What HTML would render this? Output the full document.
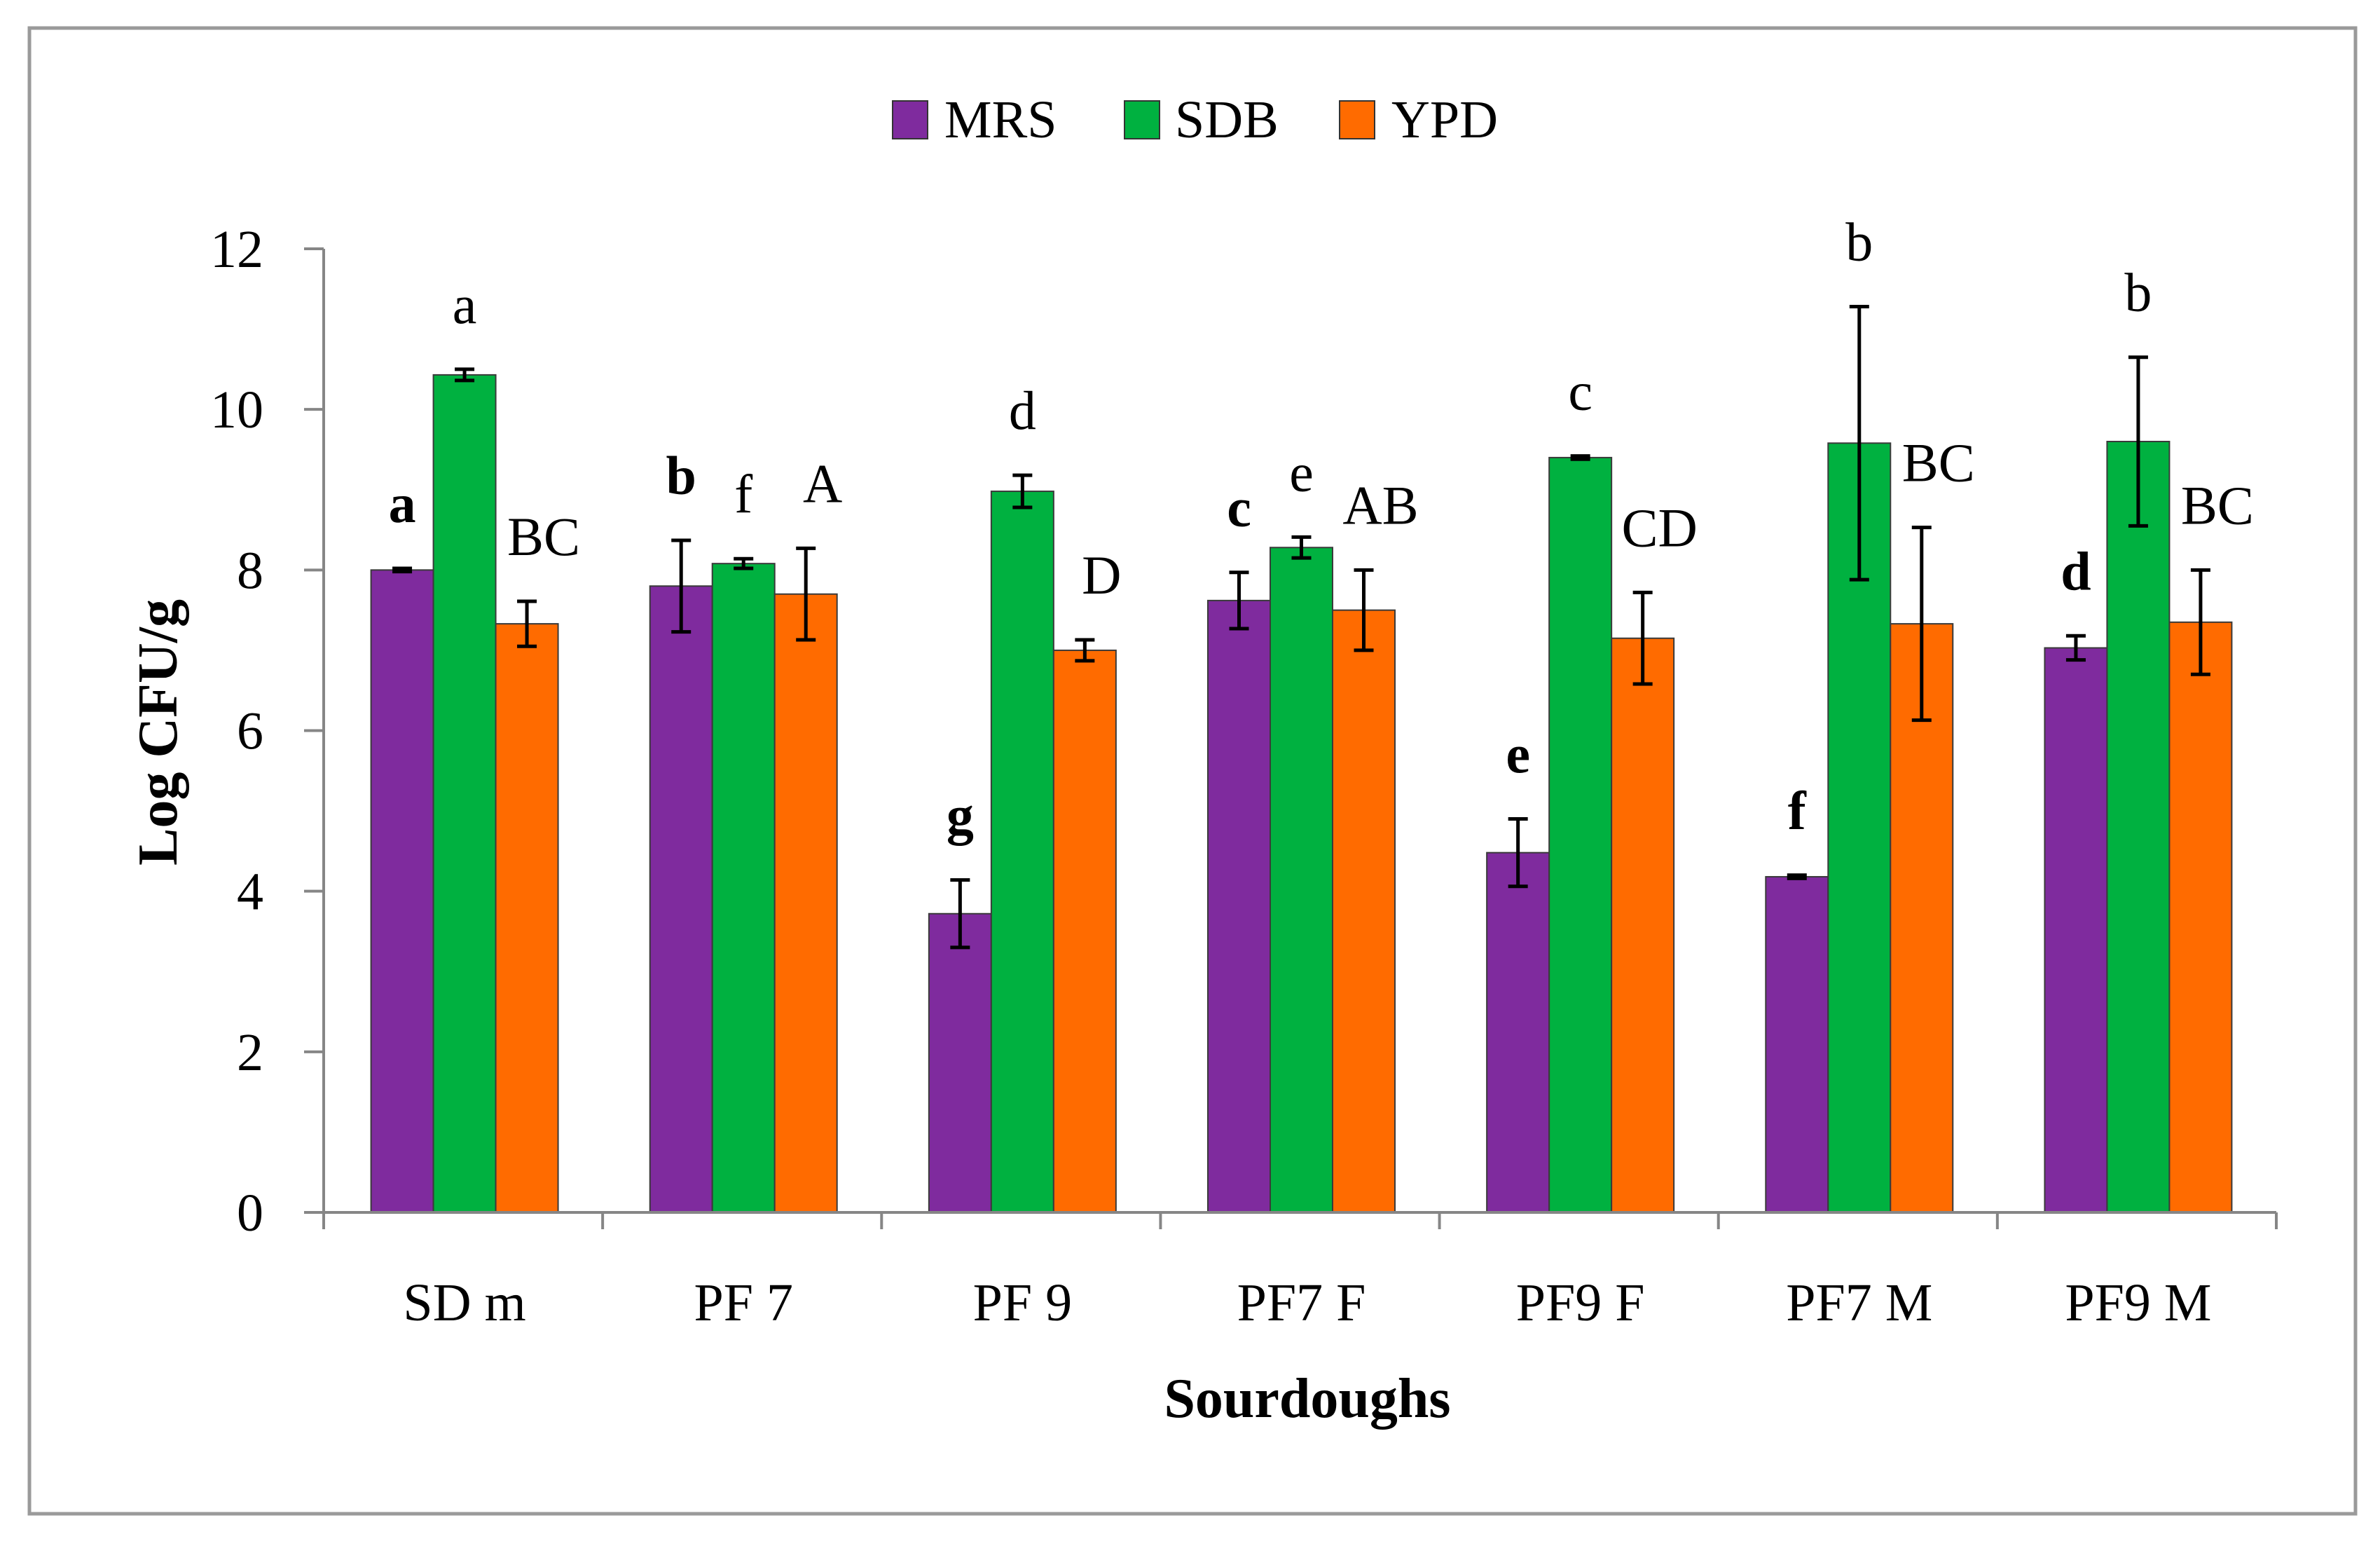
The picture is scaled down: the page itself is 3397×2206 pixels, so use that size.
<!DOCTYPE html>
<html><head><meta charset="utf-8"><style>html,body{margin:0;padding:0;background:#fff}svg{display:block}</style></head>
<body>
<svg id="chart" width="3397" height="2206" viewBox="0 0 3397 2206" xmlns="http://www.w3.org/2000/svg" font-family="'Liberation Serif', serif">
<rect x="42" y="40" width="3320" height="2120" fill="#fff" stroke="#9a9a9a" stroke-width="5"/>
<g font-size="76" fill="#000">
  <rect x="1274" y="144" width="50" height="54" fill="#7f2b9e" stroke="#333" stroke-width="2"/>
  <text x="1348" y="196">MRS</text>
  <rect x="1605" y="144" width="50" height="54" fill="#00b140" stroke="#333" stroke-width="2"/>
  <text x="1677" y="196">SDB</text>
  <rect x="1912" y="144" width="50" height="54" fill="#ff6b00" stroke="#333" stroke-width="2"/>
  <text x="1986" y="196">YPD</text>
</g>
<g id="plot"></g>
<text x="1866" y="2022" font-size="80" font-weight="bold" text-anchor="middle">Sourdoughs</text>
<text transform="translate(252,1045) rotate(-90)" font-size="80" font-weight="bold" text-anchor="middle">Log CFU/g</text>
</svg>
<script>
const categories = ["SD m","PF 7","PF 9","PF7 F","PF9 F","PF7 M","PF9 M"];
const mrsValues = [8.0,7.8,3.72,7.62,4.48,4.18,7.03];
const mrsErrors = [0.02,0.57,0.42,0.35,0.42,0.02,0.15];
const sdbValues = [10.43,8.08,8.98,8.28,9.4,9.58,9.6];
const sdbErrors = [0.07,0.06,0.2,0.13,0.02,1.7,1.05];
const ypdValues = [7.33,7.7,7.0,7.5,7.15,7.33,7.35];
const ypdErrors = [0.28,0.57,0.13,0.5,0.57,1.2,0.65];
const mrsLetters = ["a","b","g","c","e","f","d"];
const sdbLetters = ["a","f","d","e","c","b","b"];
const ypdLetters = ["BC","A","D","AB","CD","BC","BC"];
const yTicks = [0,2,4,6,8,10,12];

const NS = "http://www.w3.org/2000/svg";
const plot = document.getElementById('plot');
const x0 = 462, x1 = 3249, yBase = 1730, yTop = 355, yMax = 12;
const groupW = (x1 - x0) / categories.length;
const barW = 89;
function yScale(v){ return yBase - (v / yMax) * (yBase - yTop); }
function groupCenter(i){ return x0 + groupW * (i + 0.5) + 2; }
function mk(tag, attrs){ const e = document.createElementNS(NS, tag); for (const k in attrs) e.setAttribute(k, attrs[k]); plot.appendChild(e); return e; }

const series = [
  {key:"mrs", vals:mrsValues, errs:mrsErrors, letters:mrsLetters, color:"#7f2b9e", bold:true, dx:0},
  {key:"sdb", vals:sdbValues, errs:sdbErrors, letters:sdbLetters, color:"#00b140", bold:false, dx:0},
  {key:"ypd", vals:ypdValues, errs:ypdErrors, letters:ypdLetters, color:"#ff6b00", bold:false, dx:24}
];

categories.forEach((c, i) => {
  series.forEach((s, j) => {
    const cx = groupCenter(i) + (j - 1) * barW;
    const v = s.vals[i], er = s.errs[i];
    const r = mk('rect', {x: cx - barW/2, y: yScale(v), width: barW, height: yBase - yScale(v), fill: s.color, stroke: "#3a3a3a", "stroke-width": 2});
    
    
    const yt = yScale(v + er), yb = yScale(v - er);
    const eb = mk('path', {d: `M${cx},${yt}V${yb}M${cx-14},${yt}H${cx+14}M${cx-14},${yb}H${cx+14}`, stroke: "#000", "stroke-width": 5, fill: "none"});
    
    
    const t = mk('text', {x: cx + s.dx, y: yt - 66, "font-size": 78, "text-anchor": "middle", "font-weight": s.bold ? "bold" : "normal"});
    t.textContent = s.letters[i];
    
    
  });
  const lb = mk('text', {x: groupCenter(i), y: 1884, "font-size": 76, "text-anchor": "middle"});
  lb.textContent = c;
  
  
});

const ya = mk('line', {x1: x0, y1: yTop, x2: x0, y2: yBase + 24, stroke: "#868686", "stroke-width": 4});


const xa = mk('line', {x1: x0 - 28, y1: yBase, x2: x1, y2: yBase, stroke: "#868686", "stroke-width": 4});


for (let k = 0; k <= categories.length; k++) {
  const tx = x0 + groupW * k;
  const tk = mk('line', {x1: tx, y1: yBase, x2: tx, y2: yBase + 24, stroke: "#868686", "stroke-width": 4});
  
  
}
yTicks.forEach(v => {
  const y = yScale(v);
  const tk = mk('line', {x1: x0 - 28, y1: y, x2: x0, y2: y, stroke: "#868686", "stroke-width": 4});
  
  
  const t = mk('text', {x: 376, y: y + 26, "font-size": 76, "text-anchor": "end"});
  t.textContent = v;
  
  
});
</script>
</body></html>
